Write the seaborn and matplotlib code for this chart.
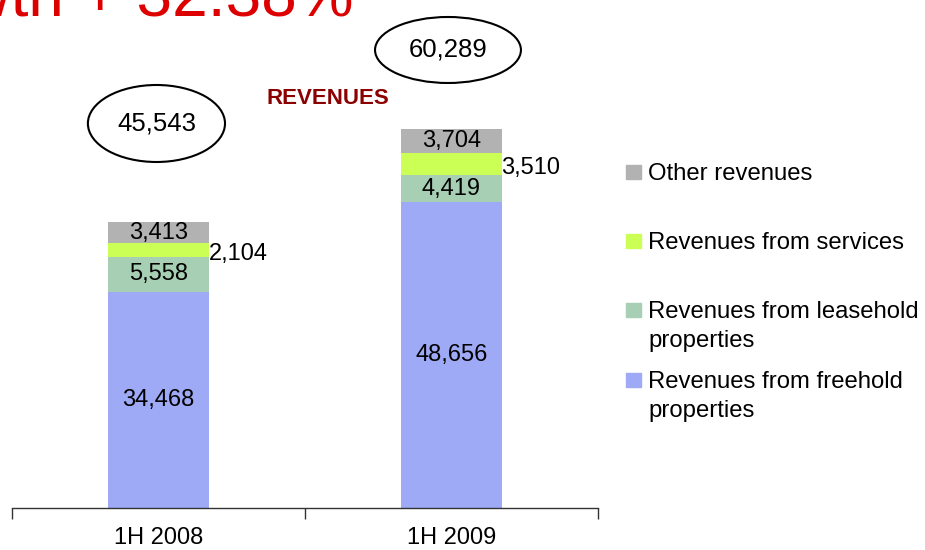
import numpy as np
import pandas as pd
import seaborn as sns
import matplotlib
matplotlib.use('Agg')
import matplotlib.pyplot as plt
from matplotlib.patches import Ellipse, Rectangle

sns.set_theme(style="white")
plt.rcParams['font.family'] = ['Liberation Sans', 'DejaVu Sans']
plt.rcParams['text.color'] = 'black'
plt.rcParams['xtick.color'] = 'black'

periods = ["1H 2008", "1H 2009"]
freehold = [34468, 48656]
leasehold = [5558, 4419]
services = [2104, 3510]
other = [3413, 3704]
totals = [45543, 60289]

series_names = ["Revenues from freehold\nproperties", "Revenues from leasehold\nproperties",
                "Revenues from services", "Other revenues"]
series_colors = ["#9eaaf5", "#a6cfb4", "#ccff55", "#b2b2b2"]

df = pd.DataFrame({"period": periods, "freehold": freehold, "leasehold": leasehold,
                   "services": services, "other": other})
layers = ["freehold", "leasehold", "services", "other"]
cum = df[layers].cumsum(axis=1)

fig = plt.figure(figsize=(9.25, 5.5), dpi=100)
ax = fig.add_axes([12/925, 1 - 508/550, 586/925, 508/550])

# stacked bars: draw the cumulative tops first, lower layers on top of them
for layer, color in reversed(list(zip(layers, series_colors))):
    sns.barplot(x=df["period"], y=cum[layer], color=color, saturation=1,
                width=0.345, linewidth=0, ax=ax, zorder=2)

ax.set_xlim(-0.5, 1.5)
ax.set_ylim(0, 80890)
ax.set_xlabel("")
ax.set_ylabel("")
ax.set_yticks([])
for s in ["top", "right", "left"]:
    ax.spines[s].set_visible(False)
ax.spines["bottom"].set_color("#333333")
ax.spines["bottom"].set_linewidth(1)
ax.set_xticks([-0.5, 0.5, 1.5])
ax.set_xticklabels([])
ax.tick_params(axis="x", which="major", length=8, width=1, color="#333333", bottom=True)
ax.set_xticks([0, 1], minor=True)
ax.set_xticklabels(periods, minor=True, fontsize=17)
ax.tick_params(axis="x", which="minor", length=0, pad=14)

fs = 17
for i in range(len(periods)):
    bottoms = [0] + list(cum.iloc[i, :-1])
    for j, layer in enumerate(layers):
        v = df[layer][i]
        mid = bottoms[j] + v / 2
        if layer == "services":
            ax.text(i + 0.345 / 2 - 0.002, mid - 650, f"{v:,}", ha="left", va="center", fontsize=fs)
        else:
            ax.text(i, mid, f"{v:,}", ha="center", va="center", fontsize=fs)

# totals in ellipses
ell_x = [-0.007, 0.988]
ell_y = [61226, 72930]
ell_w = [0.468, 0.498]
ell_h = [12261, 10510]
for i, t in enumerate(totals):
    ax.add_patch(Ellipse((ell_x[i], ell_y[i]), ell_w[i], ell_h[i], fill=False,
                         ec="black", lw=1.5, clip_on=False))
    ax.text(ell_x[i], ell_y[i], f"{t:,}", ha="center", va="center", fontsize=18.5)

fig.text(328/925, 1 - 99/550, "REVENUES", color="#8b0000", fontsize=16,
         fontweight="bold", ha="center", va="center")

growth = (totals[1] / totals[0] - 1) * 100
fig.text(354/925, 1 - 16/550, f"Growth + {growth:.2f}%", color="#dd0000", fontsize=46,
         ha="right", va="baseline")

# legend drawn by hand to follow the uneven spacing of the original
legend_base = [180, 249, 318, 388]
legend_order = [3, 2, 1, 0]
for k, idx in enumerate(legend_order):
    yb = legend_base[k]
    fig.patches.append(Rectangle((626/925, 1 - (yb - 1)/550), 15/925, 14/550,
                                 transform=fig.transFigure, color=series_colors[idx]))
    for n, line in enumerate(series_names[idx].split("\n")):
        fig.text(648/925, 1 - (yb + 29 * n)/550, line, fontsize=17.2,
                 ha="left", va="baseline")

fig.savefig("out.png", dpi=100)
